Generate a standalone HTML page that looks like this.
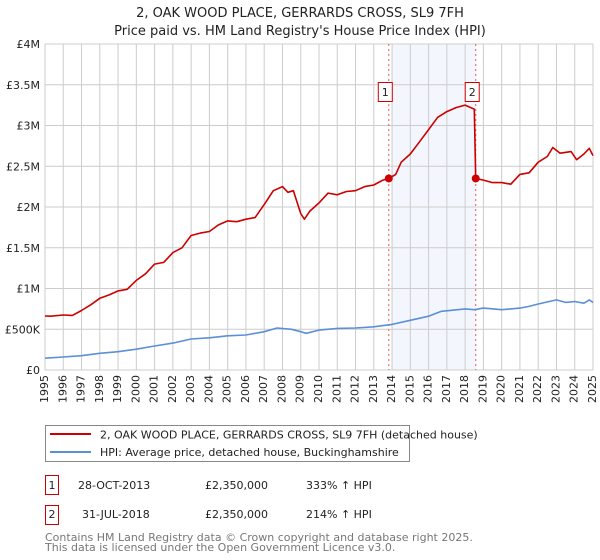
<!DOCTYPE html>
<html><head><meta charset="utf-8"><style>
body{margin:0;background:#fff;font-family:"DejaVu Sans","Liberation Sans",sans-serif;}
svg text{font-family:"DejaVu Sans","Liberation Sans",sans-serif;}
#wrap{position:relative;width:600px;height:560px;overflow:hidden;}
#chart{position:absolute;left:0;top:0;}
.xl{position:absolute;font-size:11px;line-height:12px;color:#222;height:32px;width:12px;white-space:nowrap;writing-mode:vertical-rl;writing-mode:sideways-lr;text-align:right;}
</style></head><body>
<div id="wrap">
<svg id="chart" width="600" height="560" xmlns="http://www.w3.org/2000/svg">
<text x="300" y="17" text-anchor="middle" font-size="13" fill="#222">2, OAK WOOD PLACE, GERRARDS CROSS, SL9 7FH</text>
<text x="300" y="35" text-anchor="middle" font-size="13" fill="#222">Price paid vs. HM Land Registry's House Price Index (HPI)</text>
<g id="plot"></g>
<g>
<rect x="45.5" y="425.5" width="364" height="36" fill="#fff" stroke="#888"/>
<line x1="50" y1="434" x2="91" y2="434" stroke="#cc0000" stroke-width="2"/>
<text x="100" y="438.5" font-size="11" fill="#222">2, OAK WOOD PLACE, GERRARDS CROSS, SL9 7FH (detached house)</text>
<line x1="50" y1="452" x2="91" y2="452" stroke="#5b8fd6" stroke-width="2"/>
<text x="100" y="456" font-size="11" fill="#222">HPI: Average price, detached house, Buckinghamshire</text>
</g>
<g>
<rect x="45.5" y="475.5" width="13" height="19" fill="#fff" stroke="#cc0000"/>
<text x="52" y="489" text-anchor="middle" font-size="11" fill="#222">1</text>
<text x="78" y="489" font-size="11" fill="#222">28-OCT-2013</text>
<text x="205" y="489" font-size="11" fill="#222">£2,350,000</text>
<text x="306" y="489" font-size="11" fill="#222">333% ↑ HPI</text>
<rect x="45.5" y="505.5" width="13" height="19" fill="#fff" stroke="#cc0000"/>
<text x="52" y="518" text-anchor="middle" font-size="11" fill="#222">2</text>
<text x="82" y="518" font-size="11" fill="#222">31-JUL-2018</text>
<text x="205" y="518" font-size="11" fill="#222">£2,350,000</text>
<text x="306" y="518" font-size="11" fill="#222">214% ↑ HPI</text>
</g>
<text x="45" y="541" font-size="11" fill="#777">Contains HM Land Registry data © Crown copyright and database right 2025.</text>
<text x="45" y="551" font-size="11" fill="#777">This data is licensed under the Open Government Licence v3.0.</text>
</svg>
</div>
<script>
const redYears=[1995,1995.3,1996,1996.5,1997,1997.5,1998,1998.5,1999,1999.5,2000,2000.5,2001,2001.5,2002,2002.5,2003,2003.5,2004,2004.5,2005,2005.5,2006,2006.5,2007,2007.5,2008,2008.3,2008.6,2009,2009.2,2009.5,2010,2010.5,2011,2011.5,2012,2012.5,2013,2013.5,2013.82,2014.2,2014.5,2015,2015.5,2016,2016.5,2017,2017.5,2018,2018.5,2018.58,2019,2019.5,2020,2020.5,2021,2021.5,2022,2022.5,2022.8,2023.2,2023.8,2024.1,2024.5,2024.8,2025];
const redValues=[662,660,675,670,730,800,880,920,970,990,1100,1180,1300,1320,1440,1500,1650,1680,1700,1780,1830,1820,1850,1870,2030,2200,2250,2180,2200,1920,1850,1950,2050,2170,2150,2190,2200,2250,2270,2330,2350,2400,2550,2650,2800,2950,3100,3170,3220,3250,3200,2350,2330,2300,2300,2280,2400,2420,2550,2620,2730,2660,2680,2580,2650,2720,2630];
const blueYears=[1995,1996,1997,1998,1999,2000,2001,2002,2003,2004,2005,2006,2007,2007.7,2008.5,2009,2009.3,2010,2011,2012,2013,2014,2015,2016,2016.7,2018,2018.5,2019,2020,2021,2021.5,2022,2023,2023.5,2024,2024.5,2024.8,2025];
const blueValues=[145,160,175,205,225,255,295,330,380,395,420,430,470,515,500,470,450,490,510,515,530,560,610,660,720,750,740,760,740,760,780,810,860,830,840,820,860,830];
const yTicks=[0,500,1000,1500,2000,2500,3000,3500,4000];
const yTickLabels=['£0','£500K','£1M','£1.5M','£2M','£2.5M','£3M','£3.5M','£4M'];
const saleYears=[2013.82,2018.58];
const saleValues=[2350,2350];
const saleLabels=['1','2'];
const shadeRange=[2014,2018.58];

const X0=45,X1=593,Y0=370,Y1=44;
const xs=y=>X0+(y-1995)/30*(X1-X0);
const ys=v=>Y0-v/4000*(Y0-Y1);
const NS='http://www.w3.org/2000/svg';
const plot=document.getElementById('plot');
const wrap=document.getElementById('wrap');
function mk(tag,attrs){const e=document.createElementNS(NS,tag);for(const k in attrs)e.setAttribute(k,attrs[k]);plot.appendChild(e);return e;}

let sh=mk('rect',{x:xs(shadeRange[0]),y:Y1,width:xs(shadeRange[1])-xs(shadeRange[0]),height:Y0-Y1,fill:'#eef3fc',opacity:0.7});


for(let yr=1995;yr<=2025;yr++){
  let g=mk('line',{x1:xs(yr),x2:xs(yr),y1:Y1,y2:Y0,stroke:'#ccc','stroke-width':1});
  
  
  let d=document.createElement('div');
  d.className='xl';
  d.textContent=yr;
  d.style.left=(xs(yr)-6)+'px';
  d.style.top=(Y0+5)+'px';
  
  
  wrap.appendChild(d);
}
yTicks.forEach((v,i)=>{
  let g=mk('line',{x1:X0,x2:X1,y1:ys(v),y2:ys(v),stroke:'#ccc','stroke-width':1});
  
  
  let t=mk('text',{x:X0-5,y:ys(v)+4,'font-size':11,fill:'#222','text-anchor':'end'});
  t.textContent=yTickLabels[i];
  
  
});
saleYears.forEach((y,i)=>{
  let l=mk('line',{x1:xs(y),x2:xs(y),y1:Y1,y2:Y0,stroke:'#ee5555','stroke-width':1,'stroke-dasharray':'2,3'});
  
  
});
function path(xa,va,color,name){
  let d=xa.map((y,i)=>(i?'L':'M')+xs(y).toFixed(1)+','+ys(va[i]).toFixed(1)).join('');
  let p=mk('path',{d:d,fill:'none',stroke:color,'stroke-width':1.6,'stroke-linejoin':'round'});
  
  
}
path(blueYears,blueValues,'#5b8fd6','hpi-line');
path(redYears,redValues,'#cc0000','property-price-line');
saleYears.forEach((y,i)=>{
  let c=mk('circle',{cx:xs(y),cy:ys(saleValues[i]),r:4,fill:'#cc0000'});
  
  
  let b=mk('rect',{x:xs(y)-10.5,y:82.5,width:14,height:19,fill:'#fff',stroke:'#cc0000'});
  
  
  let t=mk('text',{x:xs(y)-3.5,y:96,'font-size':11,fill:'#222','text-anchor':'middle'});
  t.textContent=saleLabels[i];
  
  
});
</script>
</body></html>
